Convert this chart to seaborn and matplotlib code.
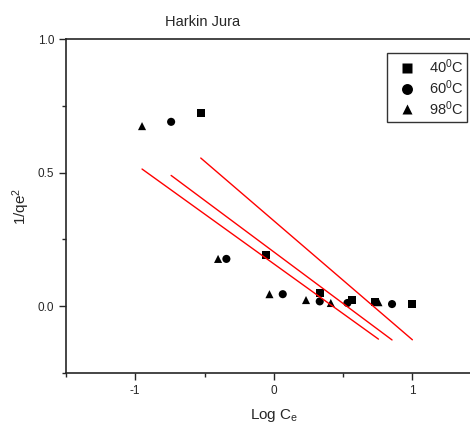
import matplotlib
matplotlib.use("Agg")
import matplotlib.pyplot as plt
import pandas as pd
import seaborn as sns
from matplotlib.ticker import MultipleLocator

#%% data
temps = ['40$^0$C', '60$^0$C', '98$^0$C']
logce_40 = [-0.527, -0.055, 0.332, 0.563, 0.729, 1.001]
inv_qe2_40 = [0.724, 0.192, 0.048, 0.023, 0.015, 0.008]
logce_60 = [-0.741, -0.342, 0.065, 0.332, 0.532, 0.854]
inv_qe2_60 = [0.690, 0.177, 0.045, 0.018, 0.012, 0.008]
logce_98 = [-0.951, -0.402, -0.031, 0.233, 0.412, 0.756]
inv_qe2_98 = [0.674, 0.177, 0.045, 0.023, 0.012, 0.015]

df = pd.DataFrame({
    'logce': logce_40 + logce_60 + logce_98,
    'inv': inv_qe2_40 + inv_qe2_60 + inv_qe2_98,
    'temp': [temps[0]] * 6 + [temps[1]] * 6 + [temps[2]] * 6,
})

#%% make graph
sns.set_style('ticks')
plt.rcParams['font.family'] = ['Liberation Sans', 'DejaVu Sans']
plt.rcParams['mathtext.fontset'] = 'custom'
plt.rcParams['mathtext.rm'] = 'Liberation Sans'
plt.rcParams['mathtext.it'] = 'Liberation Sans:italic'

fig = plt.figure(figsize=(4.7, 4.25), dpi=100)
ax = fig.add_axes([66 / 470, 52 / 425, 415.5 / 470, 334 / 425])

# linear fits, drawn over each series' range
for t in temps:
    sub = df[df['temp'] == t]
    sns.regplot(data=sub, x='logce', y='inv', scatter=False, ci=None,
                truncate=True, color='red', line_kws={'lw': 1}, ax=ax)

sns.scatterplot(data=df, x='logce', y='inv', style='temp',
                markers={temps[0]: 's', temps[1]: 'o', temps[2]: '^'},
                color='black', s=34, edgecolor='none', ax=ax)

ax.set_xlim(-1.5, 1.5)
ax.set_ylim(-0.25, 1.0)
ax.xaxis.set_major_locator(MultipleLocator(1))
ax.xaxis.set_minor_locator(MultipleLocator(0.5))
ax.yaxis.set_major_locator(MultipleLocator(0.5))
ax.yaxis.set_minor_locator(MultipleLocator(0.25))
ax.tick_params(which='major', length=5, width=1, labelsize=8.5, direction='out')
ax.tick_params(which='minor', length=3, width=1, direction='out')
ax.xaxis.set_major_formatter(plt.FormatStrFormatter('%d'))
ax.yaxis.set_major_formatter(plt.FormatStrFormatter('%.1f'))
for s in ax.spines.values():
    s.set_linewidth(1.2)
ax.set_xlabel('Log C$_\\mathrm{e}$', fontsize=11, labelpad=7)
ax.set_ylabel('1/qe$^2$', fontsize=11)

leg = ax.legend(loc='upper left', bbox_to_anchor=(321 / 415.5, 1 - 14 / 334),
                borderaxespad=0, frameon=True, fancybox=False, edgecolor='black',
                fontsize=10.5, handletextpad=0.35, borderpad=0.3, labelspacing=0.15,
                handlelength=2.2, markerscale=1.35)
leg.get_frame().set_linewidth(1)

fig.text(203 / 470, 1 - 22 / 425, 'Harkin Jura', ha='center', va='center', fontsize=10.5)

plt.savefig('out.png', dpi=100)
